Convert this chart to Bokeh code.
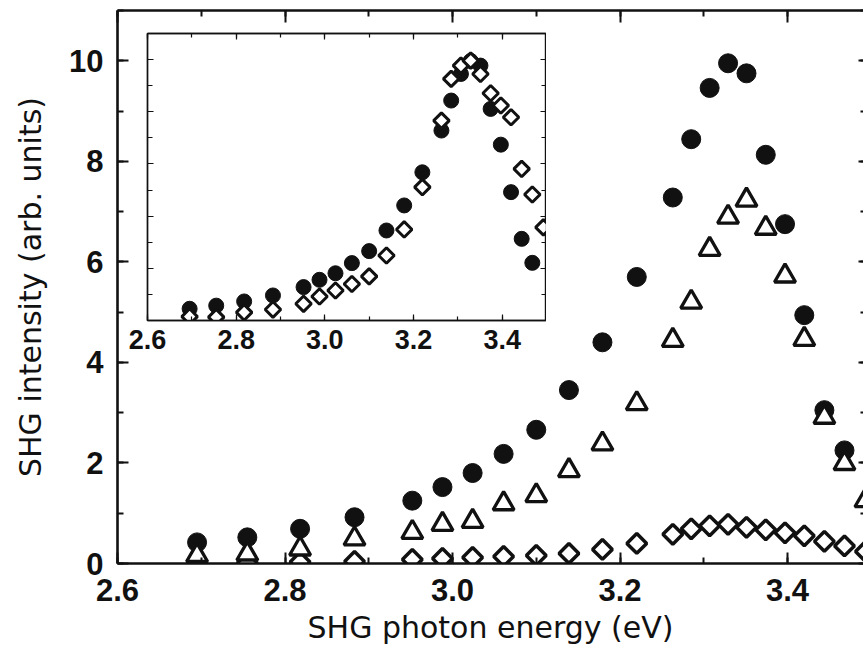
import math
from bokeh.plotting import figure
from bokeh.models import Range1d, SingleIntervalTicker, LinearAxis, NumeralTickFormatter, CustomJSTickFormatter
from bokeh.layouts import column
from bokeh.embed import file_html
from bokeh.resources import INLINE

nan = float("nan")

# SHG photon energy (eV)
energy = [2.695, 2.755, 2.818, 2.883, 2.952, 2.988, 3.024, 3.061, 3.100, 3.139, 3.179, 3.220,
          3.263, 3.285, 3.307, 3.329, 3.351, 3.374, 3.397, 3.420, 3.444, 3.468, 3.493]
# main panel series
circles = [0.42, 0.52, 0.69, 0.92, 1.25, 1.52, 1.80, 2.18, 2.66, 3.45, 4.40, 5.70,
           7.28, 8.44, 9.46, 9.95, 9.75, 8.13, 6.75, 4.94, 3.05, 2.25, nan]
triangles = [0.16, 0.19, 0.29, 0.49, 0.62, 0.78, 0.84, 1.19, 1.35, 1.85, 2.38, 3.18,
             4.44, 5.20, 6.25, 6.89, 7.23, 6.67, 5.72, 4.46, 2.91, 1.99, 1.25]
diamonds = [0.01, 0.01, 0.03, 0.04, 0.08, 0.10, 0.12, 0.14, 0.16, 0.20, 0.28, 0.40,
            0.58, 0.69, 0.75, 0.78, 0.72, 0.67, 0.61, 0.55, 0.44, 0.35, 0.24]
# inset series
inset_circles = [0.45, 0.57, 0.73, 0.96, 1.28, 1.56, 1.81, 2.20, 2.66, 3.45, 4.41, 5.68,
                 7.28, 8.43, 9.45, 9.95, 9.77, 8.11, 6.74, 4.92, 3.13, 2.21, nan]
inset_diamonds = [0.15, 0.13, 0.31, 0.42, 0.64, 0.92, 1.15, 1.40, 1.69, 2.49, 3.49, 5.11,
                  7.66, 9.26, 9.77, 9.96, 9.45, 8.71, 8.24, 7.79, 5.81, 4.83, 3.57]

x_title = "SHG photon energy (eV)"
y_title = "SHG intensity (arb. units)"

TITLE_FONT = "DejaVu Sans"
TICK_FONT = "Liberation Sans"
INK = "#111111"


def style_axis(ax, width, major_in, minor_in, tick_w, label_size, show_labels, standoff):
    ax.axis_line_width = width
    ax.axis_line_color = INK
    ax.major_tick_in = major_in
    ax.major_tick_out = 0
    ax.minor_tick_in = minor_in
    ax.minor_tick_out = 0
    ax.major_tick_line_width = tick_w
    ax.minor_tick_line_width = tick_w
    ax.major_tick_line_color = INK
    ax.minor_tick_line_color = INK
    ax.major_label_text_font = TICK_FONT
    ax.major_label_text_font_style = "bold"
    ax.major_label_text_font_size = label_size
    ax.major_label_text_color = INK
    ax.major_label_standoff = standoff
    if not show_labels:
        ax.formatter = CustomJSTickFormatter(code="return ''")
        ax.major_label_standoff = 0


# ---------------- main figure ----------------
p = figure(width=863, height=656, x_range=Range1d(2.6, 3.4907), y_range=Range1d(0, 11),
           output_backend="svg", toolbar_location=None,
           min_border_left=117, min_border_right=0, min_border_top=10, min_border_bottom=93)
p.outline_line_color = None
p.grid.visible = False
p.background_fill_color = "white"
p.border_fill_color = "white"

bx = p.xaxis[0]
bx.ticker = SingleIntervalTicker(interval=0.2, num_minor_ticks=2)
bx.formatter = NumeralTickFormatter(format="0.0")
style_axis(bx, 2.6, 11, 6, 2, "31px", True, 15)
bx.axis_label = x_title
bx.axis_label_text_font = TITLE_FONT
bx.axis_label_text_font_size = "30px"
bx.axis_label_text_font_style = "normal"
bx.axis_label_text_color = INK
bx.axis_label_standoff = 6

ly = p.yaxis[0]
ly.ticker = SingleIntervalTicker(interval=2, num_minor_ticks=2)
ly.formatter = NumeralTickFormatter(format="0")
style_axis(ly, 2.6, 11, 6, 2, "31px", True, 14)
ly.axis_label = y_title
ly.axis_label_text_font = TITLE_FONT
ly.axis_label_text_font_size = "30px"
ly.axis_label_text_font_style = "normal"
ly.axis_label_text_color = INK
ly.axis_label_standoff = 18

tx = LinearAxis(ticker=SingleIntervalTicker(interval=0.2, num_minor_ticks=2))
style_axis(tx, 2.6, 12, 6, 2, "1px", False, 0)
p.add_layout(tx, "above")

ry = LinearAxis(ticker=SingleIntervalTicker(interval=2, num_minor_ticks=2))
style_axis(ry, 2.6, 5, 3, 2, "1px", False, 0)
ry.axis_line_color = None
p.add_layout(ry, "right")

p.scatter(energy, circles, marker="circle", size=19, fill_color=INK, line_color=INK, line_width=1)
p.scatter(energy, diamonds, marker="square", angle=math.pi / 4, size=14,
          fill_color="white", line_color=INK, line_width=3.5)
p.scatter(energy, triangles, marker="triangle", size=21,
          fill_color="white", line_color=INK, line_width=3.3)

# ---------------- inset figure ----------------
q = figure(frame_width=399, frame_height=287, x_range=Range1d(2.6, 3.5), y_range=Range1d(0, 11),
           output_backend="svg", toolbar_location=None,
           min_border_left=117, min_border_right=0, min_border_top=10, min_border_bottom=45)
q.styles = {"position": "absolute", "left": "30px", "top": "23px", "z-index": "2"}
q.grid.visible = False
q.outline_line_color = INK
q.outline_line_width = 1.4
q.background_fill_color = "white"
q.border_fill_color = None

qbx = q.xaxis[0]
qbx.ticker = SingleIntervalTicker(interval=0.2, num_minor_ticks=2)
qbx.formatter = NumeralTickFormatter(format="0.0")
style_axis(qbx, 1.4, 6, 4, 1.2, "27px", True, 9)

qly = q.yaxis[0]
qly.ticker = SingleIntervalTicker(interval=2, num_minor_ticks=2)
style_axis(qly, 1.4, 6, 5, 1.2, "1px", False, 0)

qtx = LinearAxis(ticker=SingleIntervalTicker(interval=0.2, num_minor_ticks=2))
style_axis(qtx, 1.4, 6, 4, 1.2, "1px", False, 0)
q.add_layout(qtx, "above")

qry = LinearAxis(ticker=SingleIntervalTicker(interval=2, num_minor_ticks=2))
style_axis(qry, 1.4, 6, 5, 1.2, "1px", False, 0)
q.add_layout(qry, "right")

q.scatter(energy, inset_circles, marker="circle", size=15, fill_color=INK, line_color=INK, line_width=1)
q.scatter(energy, inset_diamonds, marker="square", angle=math.pi / 4, size=11,
          fill_color="white", line_color=INK, line_width=3)

layout = column(p, q)
open("out.html", "w").write(file_html(layout, INLINE))
